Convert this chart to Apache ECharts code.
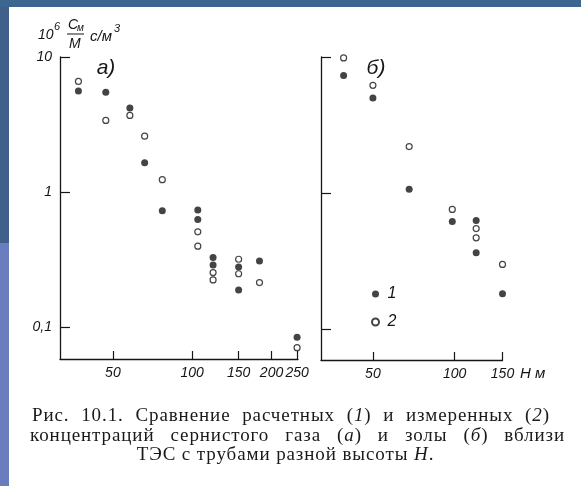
<!DOCTYPE html>
<html>
<head>
<meta charset="utf-8">
<script src="https://cdn.jsdelivr.net/npm/echarts@6/dist/echarts.min.js"></script>
<style>
html, body { margin: 0; padding: 0; background: #fff; }
#wrap { position: relative; width: 581px; height: 486px; overflow: hidden; }
#chart { position: absolute; left: 0; top: 0; width: 581px; height: 486px; }
#caption { position: absolute; left: 30px; top: 405px; font-family: 'Liberation Serif', 'Times New Roman', serif;
    font-size: 19px; line-height: 19.5px; color: #1a1a1a; letter-spacing: 0.9px; }
.l1 { margin-left: 2px; width: 518px; text-align: justify; text-align-last: justify; }
.l2 { width: 535px; text-align: justify; text-align-last: justify; }
.l3 { width: 511px; text-align: center; }
</style>
</head>
<body>
<div id="wrap">
  <div id="chart"></div>
  <div id="caption">
    <div class="l1">Рис. 10.1. Сравнение расчетных (<i>1</i>) и измеренных (<i>2</i>)</div>
    <div class="l2">концентраций сернистого газа (<i>а</i>) и золы (<i>б</i>) вблизи</div>
    <div class="l3">ТЭС с трубами разной высоты <i>H</i>.</div>
  </div>
</div>
<script>
// tick labels
var xTicksA = [50, 100, 150, 200, 250];
var xTicksB = [50, 100, 150];
var yTicks = [0.1, 1, 10];

// (а) sulphur dioxide: [H, 10^6 Cm/M]
var calcA = [[37, 5.6], [47, 5.5], [58, 4.2], [66, 1.65], [77, 0.73], [105, 0.74], [105, 0.63],
    [120, 0.33], [120, 0.29], [150, 0.28], [150, 0.19], [180, 0.31], [250, 0.085]];
var measA = [[37, 6.6], [47, 3.4], [58, 3.7], [66, 2.6], [77, 1.24], [105, 0.51], [105, 0.40],
    [120, 0.255], [120, 0.225], [150, 0.32], [150, 0.25], [180, 0.215], [250, 0.071]];

// (б) ash
var calcB = [[39, 7.3], [50, 5.0], [68, 1.07], [98, 0.62], [120, 0.63], [120, 0.365], [150, 0.183]];
var measB = [[39, 9.85], [50, 6.2], [68, 2.2], [98, 0.76], [120, 0.55], [120, 0.47], [150, 0.30]];

var ink = '#151515';
var font = "'Liberation Sans', Arial, sans-serif";

function xAxisOf(grid, min, max, ticks, showName) {
    return {
        type: 'log', gridIndex: grid, min: min, max: max,
        name: showName ? 'H м' : '',
        nameLocation: 'end', nameGap: 17,
        nameTextStyle: { color: ink, fontStyle: 'italic', fontSize: 15, fontFamily: font,
            verticalAlign: 'top', padding: [6, 0, 0, 0] },
        axisLine: { onZero: false, lineStyle: { color: ink, width: 1.3 } },
        axisTick: { inside: true, length: 8, customValues: ticks, lineStyle: { color: ink, width: 1.2 } },
        axisLabel: { customValues: ticks, color: ink, fontStyle: 'italic', fontSize: 14, fontFamily: font, margin: 7 },
        splitLine: { show: false },
        minorTick: { show: false }
    };
}

function yAxisOf(grid, min, showLabels) {
    return {
        type: 'log', gridIndex: grid, min: min, max: 10,
        axisLine: { onZero: false, lineStyle: { color: ink, width: 1.3 } },
        axisTick: { inside: true, length: 10, customValues: yTicks, lineStyle: { color: ink, width: 1.2 } },
        axisLabel: {
            show: showLabels, customValues: yTicks, color: ink, fontStyle: 'italic', fontSize: 14,
            fontFamily: font, margin: 8,
            formatter: function (v) { return String(+v.toPrecision(3)).replace('.', ','); }
        },
        splitLine: { show: false },
        minorTick: { show: false }
    };
}

var filled = { color: ink };
var hollow = { color: '#fff', borderColor: ink, borderWidth: 1.2 };

var chart = echarts.init(document.getElementById('chart'));
chart.setOption({
    animation: false,
    backgroundColor: '#fff',
    grid: [
        { left: 60, top: 57, width: 238, height: 302 },
        { left: 321, top: 57, width: 181.5, height: 303 }
    ],
    xAxis: [xAxisOf(0, 31.5, 252, xTicksA, false), xAxisOf(1, 32.2, 150, xTicksB, true)],
    yAxis: [yAxisOf(0, 0.0586, true), yAxisOf(1, 0.0596, false)],
    legend: {
        data: ['1', '2'], orient: 'vertical', left: 366, top: 281,
        itemWidth: 14, itemHeight: 7, itemGap: 12, selectedMode: false,
        textStyle: { color: ink, fontStyle: 'italic', fontSize: 16, fontFamily: font, lineHeight: 14 }
    },
    series: [
        { name: '1', type: 'scatter', xAxisIndex: 0, yAxisIndex: 0, data: calcA, symbol: 'circle', symbolSize: 7, itemStyle: filled },
        { name: '2', type: 'scatter', xAxisIndex: 0, yAxisIndex: 0, data: measA, symbol: 'circle', symbolSize: 6, itemStyle: hollow },
        { name: '1', type: 'scatter', xAxisIndex: 1, yAxisIndex: 1, data: calcB, symbol: 'circle', symbolSize: 7, itemStyle: filled },
        { name: '2', type: 'scatter', xAxisIndex: 1, yAxisIndex: 1, data: measB, symbol: 'circle', symbolSize: 6, itemStyle: hollow }
    ],
    graphic: [
        // scan border
        { type: 'rect', shape: { x: 0, y: 0, width: 581, height: 7 }, style: { fill: '#3c6590' }, silent: true },
        { type: 'rect', shape: { x: 0, y: 7, width: 9, height: 236 }, style: { fill: '#405f8a' }, silent: true },
        { type: 'rect', shape: { x: 0, y: 243, width: 9, height: 243 }, style: { fill: '#6a7dbd' }, silent: true },
        // y-axis title: 10^6 Cм/M с/м^3
        { type: 'text', x: 38, y: 35, style: { text: '10', fill: ink, font: 'italic 14px ' + font, verticalAlign: 'middle' } },
        { type: 'text', x: 54, y: 27, style: { text: '6', fill: ink, font: 'italic 11px ' + font, verticalAlign: 'middle' } },
        { type: 'text', x: 68, y: 25, style: { text: 'C', fill: ink, font: 'italic 14px ' + font, verticalAlign: 'middle' } },
        { type: 'text', x: 77, y: 28, style: { text: 'м', fill: ink, font: 'italic 10px ' + font, verticalAlign: 'middle' } },
        { type: 'line', shape: { x1: 67, y1: 34, x2: 84, y2: 34 }, style: { stroke: ink, lineWidth: 1 } },
        { type: 'text', x: 69, y: 44, style: { text: 'M', fill: ink, font: 'italic 14px ' + font, verticalAlign: 'middle' } },
        { type: 'text', x: 90, y: 37, style: { text: 'с/м', fill: ink, font: 'italic 15px ' + font, verticalAlign: 'middle' } },
        { type: 'text', x: 114, y: 29, style: { text: '3', fill: ink, font: 'italic 11px ' + font, verticalAlign: 'middle' } },
        // panel letters
        { type: 'text', x: 106, y: 68, style: { text: 'а)', fill: ink, font: 'italic 21px ' + font, align: 'center', verticalAlign: 'middle' } },
        { type: 'text', x: 376, y: 68, style: { text: 'б)', fill: ink, font: 'italic 21px ' + font, align: 'center', verticalAlign: 'middle' } }
    ]
});
</script>
</body>
</html>
